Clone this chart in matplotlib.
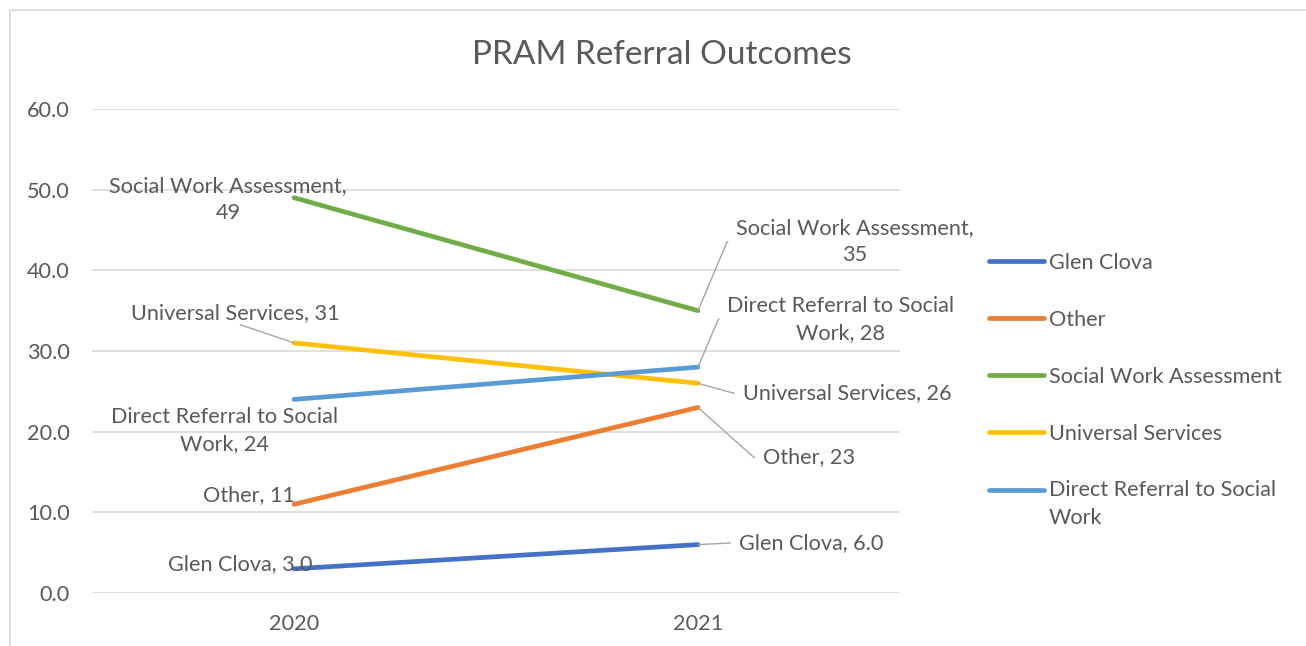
import matplotlib
matplotlib.use("Agg")
import matplotlib.pyplot as plt
from matplotlib.lines import Line2D
from matplotlib.legend_handler import HandlerLine2D

plt.rcParams['font.family'] = ['Lato', 'DejaVu Sans']

years = ["2020", "2021"]
series_names = ["Glen Clova", "Other", "Social Work Assessment",
                "Universal Services", "Direct Referral to Social Work"]
glen_clova = [3.0, 6.0]
other = [11, 23]
social_work_assessment = [49, 35]
universal_services = [31, 26]
direct_referral = [24, 28]
colors = ["#4472C4", "#ED7D31", "#70AD47", "#FFC000", "#5B9BD5"]
yticks = [0, 10, 20, 30, 40, 50, 60]

values = [glen_clova, other, social_work_assessment, universal_services, direct_referral]
label_fmt = ["{:.1f}", "{:.0f}", "{:.0f}", "{:.0f}", "{:.0f}"]
label_names = ["Glen Clova", "Other", "Social Work Assessment,\n", "Universal Services", "Direct Referral to Social\nWork"]

TXT = "#595959"
GRID = "#D9D9D9"
FS = 15.6
LS = 1.45

W, H = 1306, 646
fig = plt.figure(figsize=(W / 100, H / 100), dpi=100)
ax = fig.add_axes([92 / W, 1 - 593 / H, (900 - 92) / W, (593 - 109) / H])

x = list(range(len(years)))
for name, vals, c in zip(series_names, values, colors):
    ax.plot(x, vals, color=c, lw=3.4, solid_capstyle="round", label=name, zorder=3)

ax.set_xlim(-0.5, 1.5)
ax.set_ylim(0, 60)
ax.set_yticks(yticks)
ax.set_yticklabels([f"{v:.1f}" for v in yticks])
ax.set_xticks(x)
ax.set_xticklabels(years)
ax.grid(axis="y", color=GRID, lw=1.2)
ax.set_axisbelow(True)
for s in ax.spines.values():
    s.set_visible(False)
ax.tick_params(axis="both", length=0, labelsize=FS, labelcolor=TXT)
ax.tick_params(axis="y", pad=16)
ax.tick_params(axis="x", pad=15)

# data labels: (series index, point index) -> (pixel offset, leader)
offsets = {
    (2, 0): ((-66, -2), None),
    (3, 0): ((-59, 30), "up"),
    (4, 0): ((-69, -31), None),
    (1, 0): ((-45, 9), None),
    (0, 0): ((-54, 5), None),
    (2, 1): ((157, 69), "elbow"),
    (4, 1): ((143, 48), "elbow"),
    (3, 1): ((149, -10), "elbow"),
    (1, 1): ((111, -50), "elbow"),
    (0, 1): ((113, 2), "straight"),
}
for (si, pi), (off, leader) in offsets.items():
    v = values[si][pi]
    name = label_names[si]
    vs = label_fmt[si].format(v)
    if name.endswith("\n"):
        txt = name + vs
    else:
        txt = name + ", " + vs
    kw = dict(xy=(pi, v), xytext=off, textcoords="offset pixels",
              ha="center", va="center", multialignment="center",
              fontsize=FS, color=TXT, zorder=4, linespacing=LS)
    if leader == "elbow":
        kw["arrowprops"] = dict(arrowstyle="-", color="#A6A6A6", lw=1,
                                relpos=(0, 0.5), patchA=None, shrinkA=6, shrinkB=0,
                                connectionstyle="arc,angleA=180,armA=9,rad=0")
    elif leader == "straight":
        kw["arrowprops"] = dict(arrowstyle="-", color="#A6A6A6", lw=1,
                                relpos=(0, 0.5), patchA=None, shrinkA=6, shrinkB=0)
    elif leader == "up":
        kw["arrowprops"] = dict(arrowstyle="-", color="#A6A6A6", lw=1,
                                relpos=(0.5, 0), patchA=None, shrinkA=4, shrinkB=0)
    ax.annotate(txt, **kw)


class FirstLineHandler(HandlerLine2D):
    """Align the legend line with the first line of a two-line label."""
    def __init__(self, shift, **kw):
        super().__init__(**kw)
        self.shift = shift

    def create_artists(self, legend, orig_handle, xdescent, ydescent, width, height, fontsize, trans):
        arts = super().create_artists(legend, orig_handle, xdescent, ydescent, width, height, fontsize, trans)
        for a in arts:
            a.set_ydata([y + self.shift for y in a.get_ydata()])
        return arts


handles = [Line2D([0], [0], color=c, lw=3.4, solid_capstyle="round") for c in colors]
leg_labels = ["Glen Clova", "Other", "Social Work Assessment", "Universal Services",
              "Direct Referral to Social\nWork"]
leg = fig.legend(handles, leg_labels, loc="upper left", bbox_to_anchor=(989 / W, 1 - 253 / H),
                 frameon=False, fontsize=FS, labelcolor=TXT, handlelength=2.55,
                 handletextpad=0.2, labelspacing=1.7, borderpad=0, borderaxespad=0,
                 handler_map={handles[4]: FirstLineHandler(shift=10.5)})
for t in leg.get_texts():
    t.set_linespacing(LS)

fig.text(662 / W, 1 - 55 / H, "PRAM Referral Outcomes", ha="center", va="center",
         fontsize=24, color=TXT)

# chart frame
fig.add_artist(Line2D([10 / W, 1], [1 - 10 / H, 1 - 10 / H], transform=fig.transFigure, color=GRID, lw=1.2))
fig.add_artist(Line2D([10 / W, 10 / W], [0, 1 - 10 / H], transform=fig.transFigure, color=GRID, lw=1.2))

fig.savefig("out.png", dpi=100, facecolor="white")
